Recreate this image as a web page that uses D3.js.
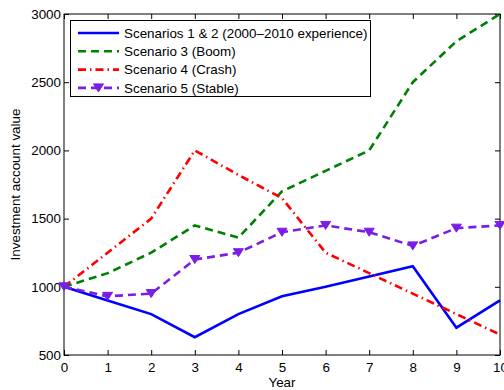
<!DOCTYPE html>
<html>
<head>
<meta charset="utf-8">
<script src="https://cdn.jsdelivr.net/npm/d3@7"></script>
<style>
  body { margin: 0; background: #fff; }
  svg { font-family: "Liberation Sans", Arial, Helvetica, sans-serif; }
</style>
</head>
<body>
<div class="container"></div>
<script>
const years = [0, 1, 2, 3, 4, 5, 6, 7, 8, 9, 10];
const scenario12 = [1000, 900, 800, 630, 800, 930, 1000, 1075, 1150, 700, 900];
const scenario3 = [1000, 1100, 1250, 1450, 1360, 1700, 1850, 2000, 2500, 2800, 3000];
const scenario4 = [1000, 1250, 1500, 2000, 1820, 1650, 1250, 1100, 950, 800, 650];
const scenario5 = [1000, 930, 950, 1200, 1250, 1400, 1450, 1400, 1300, 1430, 1450];
const seriesNames = [
  'Scenarios 1 & 2 (2000\u20132010 experience)',
  'Scenario 3 (Boom)',
  'Scenario 4 (Crash)',
  'Scenario 5 (Stable)'
];
const yTicks = [500, 1000, 1500, 2000, 2500, 3000];

const width = 504;
const height = 390;
const marginLeft = 64;
const marginRight = 4;
const marginTop = 14;
const marginBottom = 35;
const fontSize = '13.4px';

const series = [
  { name: seriesNames[0], values: scenario12, color: '#0000ff', dash: null, marker: false },
  { name: seriesNames[1], values: scenario3, color: '#008000', dash: '8,5', marker: false },
  { name: seriesNames[2], values: scenario4, color: '#ff0000', dash: '8,4,1.5,4', marker: false },
  { name: seriesNames[3], values: scenario5, color: '#7a1ee6', dash: '8,5', marker: true }
];

const svg = d3.select('.container')
              .append('svg')
              .attr('width', width)
              .attr('height', height);

const xScale = d3.scaleLinear()
                 .domain([0, 10])
                 .range([marginLeft, width - marginRight]);

const yScale = d3.scaleLinear()
                 .domain([500, 3000])
                 .range([height - marginBottom, marginTop]);

//Axes with inward ticks, MATLAB style
const styleAxis = g => {
  g.select('.domain').remove();
  g.selectAll('line').attr('stroke', '#000');
  g.selectAll('text').attr('fill', '#000').style('font-size', fontSize);
};

svg.append('g')
   .attr('transform', `translate(0,${height - marginBottom})`)
   .call(d3.axisBottom(xScale).tickValues(years).tickFormat(d3.format('d'))
           .tickSizeInner(-5).tickSizeOuter(0).tickPadding(7))
   .call(styleAxis);

svg.append('g')
   .attr('transform', `translate(0,${marginTop})`)
   .call(d3.axisTop(xScale).tickValues(years).tickFormat('')
           .tickSizeInner(-5).tickSizeOuter(0))
   .call(styleAxis);

svg.append('g')
   .attr('transform', `translate(${marginLeft},0)`)
   .call(d3.axisLeft(yScale).tickValues(yTicks).tickFormat(d3.format('d'))
           .tickSizeInner(-5).tickSizeOuter(0).tickPadding(3))
   .call(styleAxis);

svg.append('g')
   .attr('transform', `translate(${width - marginRight},0)`)
   .call(d3.axisRight(yScale).tickValues(yTicks).tickFormat('')
           .tickSizeInner(-5).tickSizeOuter(0))
   .call(styleAxis);

//Box
svg.append('rect')
   .attr('x', marginLeft)
   .attr('y', marginTop)
   .attr('width', width - marginLeft - marginRight)
   .attr('height', height - marginTop - marginBottom)
   .attr('fill', 'none')
   .attr('stroke', '#000')
   .attr('stroke-width', 1);

//Axis labels
svg.append('text')
   .attr('x', (marginLeft + width - marginRight) / 2)
   .attr('y', 387)
   .attr('text-anchor', 'middle')
   .style('font-size', fontSize)
   .text('Year');

svg.append('text')
   .attr('transform', `translate(20,${(marginTop + height - marginBottom) / 2}) rotate(-90)`)
   .attr('text-anchor', 'middle')
   .style('font-size', fontSize)
   .text('Investment account value');

//Lines
const line = d3.line()
               .x((d, i) => xScale(years[i]))
               .y(d => yScale(d));

const plot = svg.append('g');

series.forEach(s => {
  plot.append('path')
      .datum(s.values)
      .attr('d', line)
      .attr('fill', 'none')
      .attr('stroke', s.color)
      .attr('stroke-width', 2.6)
      .attr('stroke-dasharray', s.dash);
  if (s.marker) {
    plot.selectAll(null)
        .data(s.values)
        .enter()
        .append('path')
        .attr('d', 'M-5,-4L5,-4L0,4Z')
        .attr('transform', (d, i) => `translate(${xScale(years[i])},${yScale(d)})`)
        .attr('fill', s.color)
        .attr('stroke', s.color)
        .attr('stroke-width', 1);
  }
});

//Legend
const legend = svg.append('g');
legend.append('rect')
      .attr('x', 70.5)
      .attr('y', 20.5)
      .attr('width', 300)
      .attr('height', 76)
      .attr('fill', '#fff')
      .attr('stroke', '#000')
      .attr('stroke-width', 1);

series.forEach((s, i) => {
  const y = 33 + i * 18.3;
  legend.append('line')
        .attr('x1', 78)
        .attr('x2', 119)
        .attr('y1', y)
        .attr('y2', y)
        .attr('stroke', s.color)
        .attr('stroke-width', 2.6)
        .attr('stroke-dasharray', s.dash);
  if (s.marker) {
    legend.append('path')
          .attr('d', 'M-5,-4L5,-4L0,4Z')
          .attr('transform', `translate(98.5,${y})`)
          .attr('fill', s.color)
          .attr('stroke', s.color);
  }
  legend.append('text')
        .attr('x', 124)
        .attr('y', y)
        .attr('dy', '0.36em')
        .style('font-size', fontSize)
        .text(s.name);
});
</script>
</body>
</html>
